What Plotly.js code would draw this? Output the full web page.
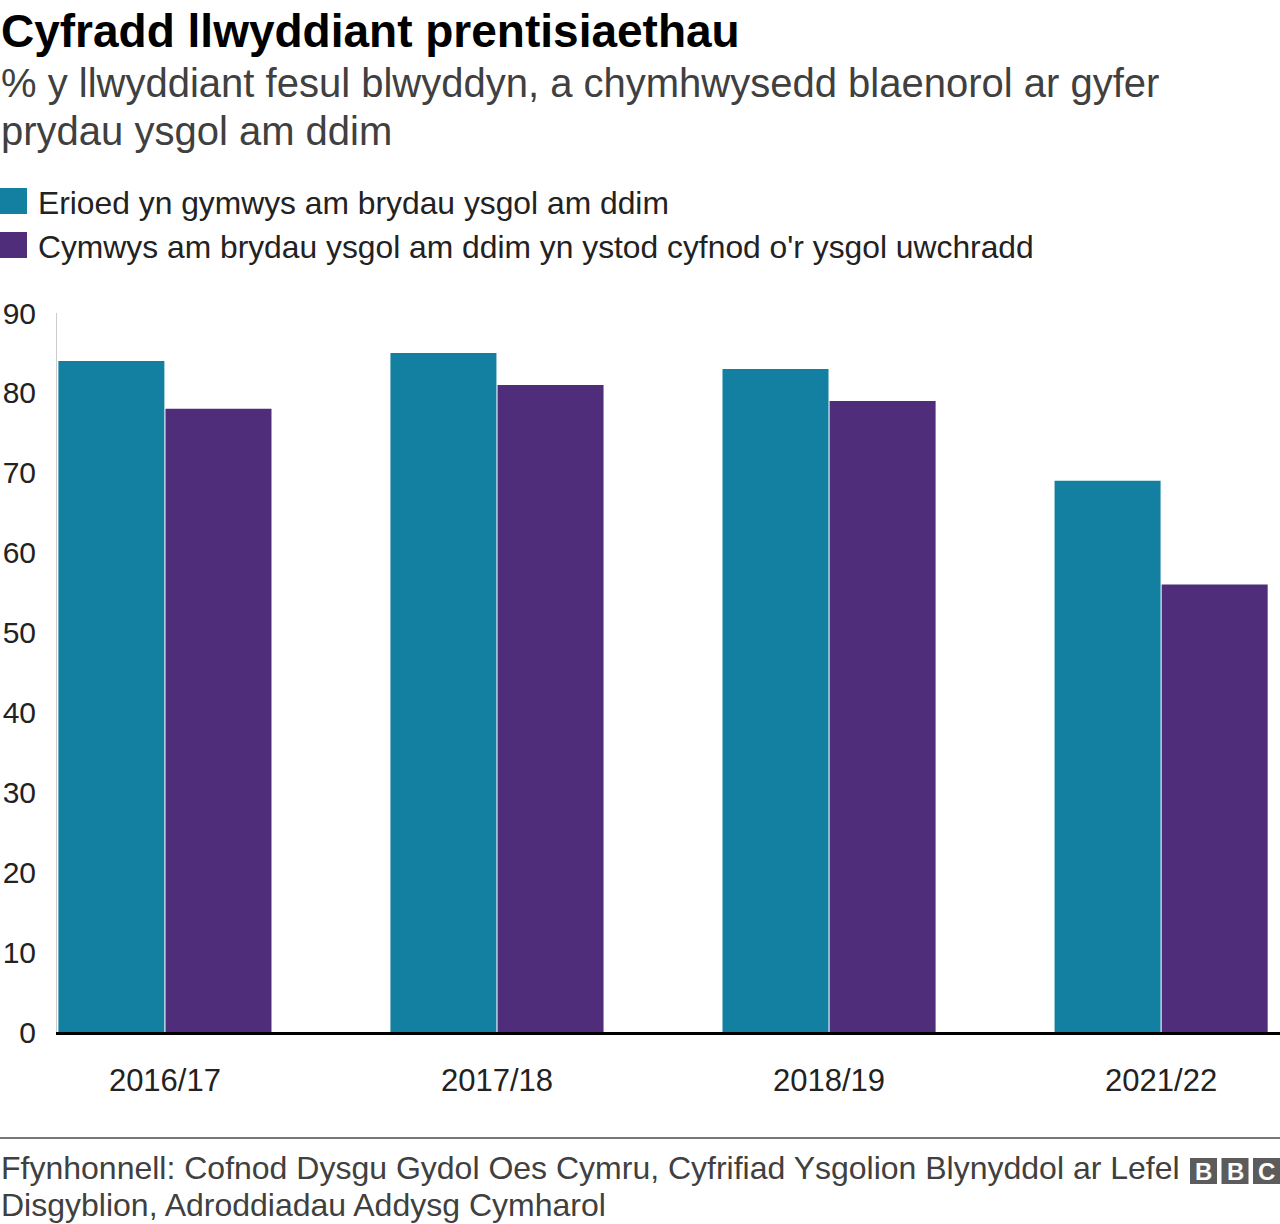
<!DOCTYPE html>
<html>
<head>
<meta charset="utf-8">
<script src="https://cdn.plot.ly/plotly-3.0.1.min.js"></script>
<style>
  body { margin: 0; background: #fff; }
  #chart { width: 1280px; height: 1224px; }
</style>
</head>
<body>
<div id="chart"></div>
<script>
// data
const years = ["2016/17", "2017/18", "2018/19", "2021/22"];
const everEligible = [84, 85, 83, 69];
const eligibleSecondary = [78, 81, 79, 56];
const seriesNames = [
  "Erioed yn gymwys am brydau ysgol am ddim",
  "Cymwys am brydau ysgol am ddim yn ystod cyfnod o'r ysgol uwchradd"
];
const seriesColors = ["#1380A1", "#4F2D7A"];
const yTicks = [0, 10, 20, 30, 40, 50, 60, 70, 80, 90];

const titleText = "Cyfradd llwyddiant prentisiaethau";
const subtitleLines = [
  "% y llwyddiant fesul blwyddyn, a chymhwysedd blaenorol ar gyfer",
  "prydau ysgol am ddim"
];
const sourceLines = [
  "Ffynhonnell: Cofnod Dysgu Gydol Oes Cymru, Cyfrifiad Ysgolion Blynyddol ar Lefel",
  "Disgyblion, Adroddiadau Addysg Cymharol"
];

const FONT = '"Liberation Sans", Arial, Helvetica, sans-serif';

// plot area is 57..1280 across, 313..1032 down
const L = 57, R = 1280, T = 313, B = 1032;
function px(p) { return (p - L) / (R - L); }
function py(p) { return (B - p) / (B - T); }

const data = [
  {
    type: 'bar',
    x: years,
    y: everEligible,
    name: seriesNames[0],
    marker: { color: seriesColors[0] },
    hoverinfo: 'skip'
  },
  {
    type: 'bar',
    x: years,
    y: eligibleSecondary,
    name: seriesNames[1],
    marker: { color: seriesColors[1] },
    hoverinfo: 'skip'
  }
];

const annotations = [];
const shapes = [];

// title + subtitle
annotations.push({
  xref: 'paper', yref: 'paper', x: px(-1), y: py(31),
  xanchor: 'left', yanchor: 'middle', showarrow: false,
  text: '<b>' + titleText + '</b>',
  font: { family: FONT, size: 46, color: '#000' }
});
subtitleLines.forEach((line, i) => {
  annotations.push({
    xref: 'paper', yref: 'paper', x: px(-1), y: py(83 + i * 48),
    xanchor: 'left', yanchor: 'middle', showarrow: false,
    text: line,
    font: { family: FONT, size: 40, color: '#404040' }
  });
});

// legend, drawn by hand so the swatches are big squares
seriesNames.forEach((name, i) => {
  const cy = 201 + i * 44;
  shapes.push({
    type: 'rect', xref: 'paper', yref: 'paper',
    x0: px(0), x1: px(27), y0: py(cy - 13), y1: py(cy + 13),
    fillcolor: seriesColors[i], line: { width: 0 }
  });
  annotations.push({
    xref: 'paper', yref: 'paper', x: px(36), y: py(cy + 2),
    xanchor: 'left', yanchor: 'middle', showarrow: false,
    text: name,
    font: { family: FONT, size: 31.8, color: '#222' }
  });
});

// footer
shapes.push({
  type: 'line', xref: 'paper', yref: 'paper',
  x0: px(0), x1: px(1280), y0: py(1138), y1: py(1138),
  line: { color: '#777', width: 2 }
});
sourceLines.forEach((line, i) => {
  annotations.push({
    xref: 'paper', yref: 'paper', x: px(-1), y: py(1168 + i * 37),
    xanchor: 'left', yanchor: 'middle', showarrow: false,
    text: line,
    font: { family: FONT, size: 32, color: '#404040' }
  });
});

// BBC blocks
['B', 'B', 'C'].forEach((ch, i) => {
  const x0 = 1190 + i * 31.5;
  shapes.push({
    type: 'rect', xref: 'paper', yref: 'paper',
    x0: px(x0), x1: px(x0 + 27), y0: py(1158), y1: py(1184),
    fillcolor: '#5c5c5c', line: { width: 0 }
  });
  annotations.push({
    xref: 'paper', yref: 'paper', x: px(x0 + 13.5), y: py(1171),
    xanchor: 'center', yanchor: 'middle', showarrow: false,
    text: '<b>' + ch + '</b>',
    font: { family: FONT, size: 24, color: '#fff' }
  });
});

const layout = {
  width: 1280,
  height: 1224,
  margin: { l: L, r: 1280 - R, t: T, b: 1224 - B, pad: 0 },
  paper_bgcolor: '#fff',
  plot_bgcolor: '#fff',
  showlegend: false,
  barmode: 'group',
  bargap: 0.355,
  bargroupgap: 0.01,
  font: { family: FONT, color: '#222' },
  xaxis: {
    type: 'category',
    range: [-0.325, 3.358],
    showgrid: false,
    zeroline: false,
    showline: true,
    linecolor: '#000',
    linewidth: 3,
    ticks: 'outside',
    ticklen: 19,
    tickcolor: 'rgba(0,0,0,0)',
    tickfont: { family: FONT, size: 31, color: '#222' },
    fixedrange: true
  },
  yaxis: {
    range: [0, 90],
    tickvals: yTicks,
    ticktext: yTicks.map(String),
    showgrid: false,
    zeroline: false,
    showline: true,
    linecolor: '#cccccc',
    linewidth: 1,
    ticks: 'outside',
    ticklen: 14,
    tickcolor: 'rgba(0,0,0,0)',
    tickfont: { family: FONT, size: 30, color: '#222' },
    fixedrange: true
  },
  annotations: annotations,
  shapes: shapes
};

Plotly.newPlot('chart', data, layout, { staticPlot: true, displayModeBar: false });
</script>
</body>
</html>
